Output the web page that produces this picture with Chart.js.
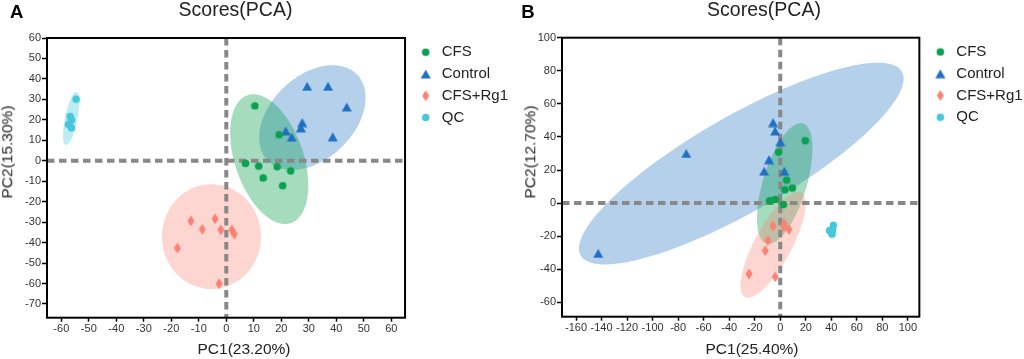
<!DOCTYPE html>
<html>
<head>
<meta charset="utf-8">
<script src="https://cdn.jsdelivr.net/npm/chart.js@4.4.0/dist/chart.umd.min.js"></script>
<style>
  body { margin: 0; background: #fff; width: 1024px; height: 359px; overflow: hidden;
         font-family: "Liberation Sans", Arial, sans-serif; position: relative; }
  canvas { position: absolute; top: 0; }
  .txt { position: absolute; line-height: 1; white-space: nowrap; color: #222; }
  .letter { font-size: 18.5px; font-weight: bold; color: #000; }
  .title { font-size: 19.5px; transform: translateX(-50%); }
  .xtitle { font-size: 15.5px; transform: translateX(-50%); }
  .ytitle { font-size: 15.5px; transform: translate(-50%, -50%) rotate(-90deg); }
</style>
</head>
<body>
<canvas id="pcaA" width="512" height="359" style="left:0"></canvas>
<canvas id="pcaB" width="512" height="359" style="left:512px"></canvas>

<div class="txt letter" style="left:10px;top:3.3px">A</div>
<div class="txt title" style="left:235.5px;top:0.2px">Scores(PCA)</div>
<div class="txt xtitle" style="left:244px;top:340.9px">PC1(23.20%)</div>
<div class="txt ytitle" style="left:7px;top:151.7px">PC2(15.30%)</div>

<div class="txt letter" style="left:521.3px;top:3.3px">B</div>
<div class="txt title" style="left:764px;top:0.2px">Scores(PCA)</div>
<div class="txt xtitle" style="left:752px;top:341px">PC1(25.40%)</div>
<div class="txt ytitle" style="left:529.5px;top:152px">PC2(12.70%)</div>

<script>
// groups (legend order)
const groups = ['CFS', 'Control', 'CFS+Rg1', 'QC'];

// ---- panel A scores [PC1, PC2]
const cfsA = [[10.4, 26.8], [19.2, 12.7], [7.0, -1.3], [11.8, -2.6], [18.5, -2.9], [23.4, -5.0], [13.4, -8.4], [20.5, -12.2]];
const controlA = [[29.4, 36.4], [37.0, 36.4], [43.8, 26.3], [27.6, 18.7], [27.1, 16.1], [21.6, 14.6], [23.8, 11.6], [38.7, 11.7]];
const rg1A = [[-12.9, -29.4], [-4.1, -28.4], [-8.7, -33.5], [-2.0, -33.8], [2.0, -33.8], [2.9, -35.9], [-17.8, -42.7], [-2.6, -60.1]];
const qcA = [[-54.6, 30.1], [-56.8, 21.7], [-56.3, 19.9], [-57.4, 17.8], [-56.3, 16.1]];

// confidence ellipses [centerX, centerY, spreadX, spreadY, correlation]
const ellCfsA = [15.6, 0.8, 14.2, 31.7, -0.405];
const ellControlA = [31.3, 21.1, 19.35, 25.6, 0.38];
const ellRg1A = [-5.4, -37.1, 18.0, 25.6, 0];
const ellQcA = [-56.4, 20.65, 2.96, 13.0, 0.634];

const xTicksA = [-60, -50, -40, -30, -20, -10, 0, 10, 20, 30, 40, 50, 60];
const yTicksA = [-70, -60, -50, -40, -30, -20, -10, 0, 10, 20, 30, 40, 50, 60];
const xRangeA = [-65.2, 65];
const yRangeA = [-76.7, 60];

// ---- panel B scores [PC1, PC2]
const cfsB = [[19.6, 37.7], [-1.3, 30.8], [5.1, 13.9], [9.5, 9.1], [3.7, 8.0], [-3.9, 2.2], [-8.3, 1.4], [2.4, -0.9]];
const controlB = [[-5.6, 48.7], [-4.0, 43.6], [0.1, 37.1], [-73.6, 30.0], [-8.8, 26.3], [-12.6, 19.3], [3.2, 19.3], [-142.6, -30.4]];
const rg1B = [[-5.7, -13.9], [2.9, -12.5], [2.9, -14.3], [6.8, -15.9], [-9.7, -22.6], [-11.7, -28.8], [-24.5, -42.9], [-3.9, -44.6]];
const qcB = [[41.6, -13.4], [38.6, -16.6], [40.2, -17.8], [40.6, -18.8], [41.0, -16.0]];

const ellCfsB = [3.5, 11.8, 21.7, 36.5, 0.575];
const ellControlB = [-30.5, 23.9, 127.2, 61.0, 0.841];
const ellRg1B = [-5.6, -25.2, 25.5, 32.0, 0.77];

const xTicksB = [-160, -140, -120, -100, -80, -60, -40, -20, 0, 20, 40, 60, 80, 100];
const yTicksB = [-60, -40, -20, 0, 20, 40, 60, 80, 100];
const xRangeB = [-171, 109];
const yRangeB = [-68.7, 100];

// ---- styling
const colors = ['rgb(10,160,80)', 'rgb(31,112,193)', 'rgb(250,130,115)', 'rgb(70,200,220)'];
const fills = ['rgba(10,160,80,0.37)', 'rgba(31,112,193,0.33)', 'rgba(250,130,115,0.33)', 'rgba(70,200,220,0.35)'];
const FONT = '"Liberation Sans", Arial, sans-serif';

function markerImage(kind, color) {
  const c = document.createElement('canvas');
  const g = c.getContext('2d');
  if (kind === 'circle') {
    c.width = 9; c.height = 9;
    g.fillStyle = color;
    g.beginPath(); g.arc(4.5, 4.5, 3.8, 0, Math.PI * 2); g.fill();
  } else if (kind === 'triangle') {
    c.width = 12; c.height = 10;
    g.fillStyle = color;
    g.beginPath(); g.moveTo(6, 0.6); g.lineTo(11, 9.4); g.lineTo(1, 9.4); g.closePath(); g.fill();
  } else {
    c.width = 8; c.height = 12;
    g.fillStyle = color;
    g.beginPath(); g.moveTo(4, 0.5); g.lineTo(7.5, 6); g.lineTo(4, 11.5); g.lineTo(0.5, 6); g.closePath(); g.fill();
  }
  return c;
}
const markerKinds = ['circle', 'triangle', 'diamond', 'circle'];

// ellipses + dashed zero lines under the points, black frame on top
const pcaDecor = {
  id: 'pcaDecor',
  beforeDatasetsDraw(chart, args, opts) {
    const {ctx, chartArea: a, scales: {x, y}} = chart;
    ctx.save();
    ctx.beginPath(); ctx.rect(a.left, a.top, a.width, a.height); ctx.clip();
    opts.ellipses.forEach((e, i) => {
      if (!e) return;
      const [cx, cy, rx, ry, rho] = e;
      const k = Math.sqrt(1 - rho * rho);
      ctx.beginPath();
      for (let s = 0; s <= 160; s++) {
        const t = s / 160 * Math.PI * 2;
        const px = x.getPixelForValue(cx + rx * Math.cos(t));
        const py = y.getPixelForValue(cy + ry * (rho * Math.cos(t) + k * Math.sin(t)));
        if (s) ctx.lineTo(px, py); else ctx.moveTo(px, py);
      }
      ctx.closePath();
      ctx.fillStyle = opts.fills[i];
      ctx.fill();
    });
    const x0 = x.getPixelForValue(0), y0 = y.getPixelForValue(0);
    ctx.strokeStyle = '#888';
    ctx.lineWidth = 4;
    ctx.setLineDash([7.5, 4.5]);
    ctx.beginPath();
    ctx.moveTo(a.left, y0); ctx.lineTo(a.right, y0);
    ctx.moveTo(x0, a.top); ctx.lineTo(x0, a.bottom);
    ctx.stroke();
    ctx.restore();
  },
  afterDraw(chart) {
    const {ctx, chartArea: a} = chart;
    ctx.save();
    ctx.strokeStyle = '#000';
    ctx.lineWidth = 2;
    ctx.strokeRect(a.left, a.top, a.width, a.height);
    ctx.restore();
  }
};

function toPoints(arr) {
  return arr.map(p => ({x: p[0], y: p[1]}));
}

function makePanel(id, series, ellipses, xTicks, yTicks, xRange, yRange, box) {
  const datasets = series.map((s, i) => ({
    label: groups[i],
    data: toPoints(s),
    pointStyle: markerImage(markerKinds[i], colors[i]),
    backgroundColor: colors[i],
    borderColor: colors[i],
    pointRadius: 4,
    pointHoverRadius: 4
  }));
  const tickFont = {family: FONT, size: 11};
  return new Chart(document.getElementById(id), {
    type: 'scatter',
    data: {datasets},
    options: {
      responsive: false,
      animation: false,
      devicePixelRatio: 1,
      layout: {padding: {top: box.top, right: box.padRight, left: 0, bottom: 0}},
      scales: {
        x: {
          type: 'linear', min: xRange[0], max: xRange[1],
          afterBuildTicks: s => { s.ticks = xTicks.map(v => ({value: v})); },
          afterFit: s => { s.height = 359 - box.bottom; },
          grid: {drawOnChartArea: false, drawTicks: true, tickLength: 4, tickColor: '#000', tickWidth: 1.5},
          border: {display: false},
          ticks: {color: '#333', font: tickFont, padding: 1, maxRotation: 0, autoSkip: false}
        },
        y: {
          type: 'linear', min: yRange[0], max: yRange[1],
          afterBuildTicks: s => { s.ticks = yTicks.map(v => ({value: v})); },
          afterFit: s => { s.width = box.left; },
          grid: {drawOnChartArea: false, drawTicks: true, tickLength: 5, tickColor: '#000', tickWidth: 1.5},
          border: {display: false},
          ticks: {color: '#333', font: tickFont, padding: 1, autoSkip: false}
        },
        gap: {
          type: 'linear', position: 'right', display: true,
          grid: {display: false}, border: {display: false}, ticks: {display: false},
          afterFit: s => { s.width = box.gap; }
        }
      },
      plugins: {
        legend: {
          position: 'right',
          align: 'start',
          maxWidth: 97.5,
          labels: {
            usePointStyle: true,
            pointStyleWidth: 17,
            padding: 6.75,
            color: '#222',
            font: {family: FONT, size: 15}
          }
        },
        tooltip: {enabled: false},
        pcaDecor: {ellipses, fills: [fills[1], fills[0], fills[2], fills[3]]}
      }
    },
    plugins: [pcaDecor]
  });
}

// ellipse drawing order: Control, CFS, CFS+Rg1, QC
makePanel('pcaA', [cfsA, controlA, rg1A, qcA], [ellControlA, ellCfsA, ellRg1A, ellQcA],
  xTicksA, yTicksA, xRangeA, yRangeA, {left: 47, top: 38, bottom: 317.7, gap: 5.45, padRight: 4});
makePanel('pcaB', [cfsB, controlB, rg1B, qcB], [ellControlB, ellCfsB, ellRg1B, null],
  xTicksB, yTicksB, xRangeB, yRangeB, {left: 50, top: 37.7, bottom: 316.7, gap: 5.75, padRight: 1.4});
</script>
</body>
</html>
